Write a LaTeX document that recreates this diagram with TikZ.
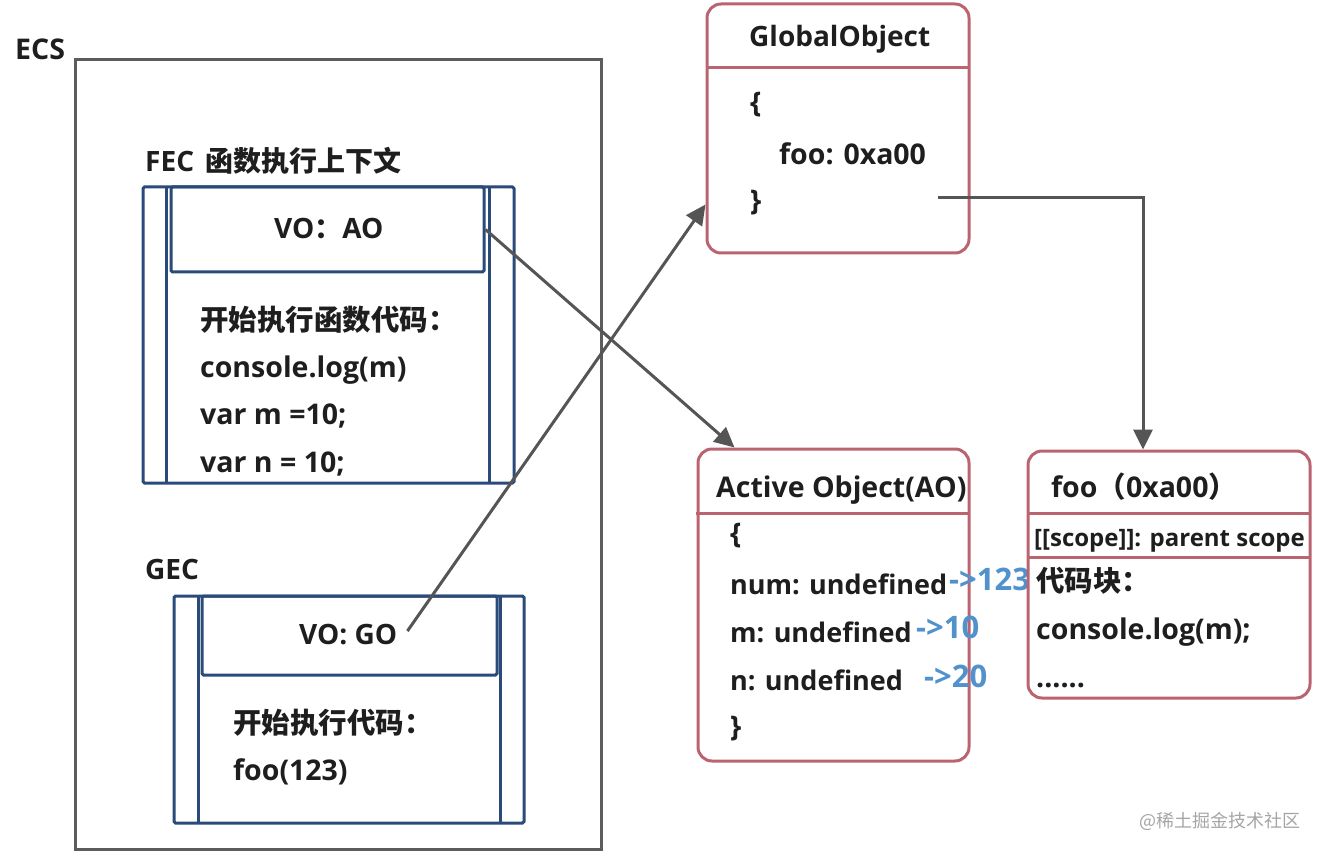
\documentclass[tikz,border=0pt]{standalone}
\usepackage{fontspec}
\setmainfont{Open Sans}
\newfontfamily\cjk{Noto Sans CJK SC}
\usetikzlibrary{arrows.meta}

\definecolor{ecsgray}{RGB}{92,92,92}
\definecolor{ctxblue}{RGB}{42,74,122}
\definecolor{objred}{RGB}{186,100,112}
\definecolor{arrowgray}{RGB}{85,85,85}
\definecolor{valblue}{RGB}{82,146,204}
\definecolor{textdark}{RGB}{30,30,30}
\definecolor{markgray}{RGB}{165,165,165}

\begin{document}
\begin{tikzpicture}[x=1pt, y=-1pt,
    ecsbox/.style={draw=ecsgray, line width=3pt, inner sep=0pt},
    ctxbox/.style={draw=ctxblue, line width=3pt, rounded corners=1.5pt, inner sep=0pt},
    objbox/.style={draw=objred, line width=3pt, rounded corners=14pt, inner sep=0pt},
    txt/.style={font=\bfseries\fontsize{28.5}{30}\selectfont, text=textdark, inner sep=0pt, anchor=base west},
    bigtxt/.style={txt, font=\bfseries\fontsize{28}{30}\selectfont},
    fieldtxt/.style={txt, font=\bfseries\fontsize{27}{30}\selectfont},
    smalltxt/.style={txt, font=\bfseries\fontsize{24}{26}\selectfont},
    valtxt/.style={txt, font=\bfseries\fontsize{31}{32}\selectfont, text=valblue},
    link/.style={draw=arrowgray, line width=3pt, -{Triangle[length=20pt,width=19pt]}}]
    \useasboundingbox (0,0) rectangle (1323,853);

    % execution context stack
    \node (ecs) [ecsbox, minimum width=526pt, minimum height=789pt] at (338,454.5) {};
    \node (ecslabel) [txt] at (15,60) {ECS};

    % function execution context
    \node (feclabel) [bigtxt] at (145,172) {FEC\hspace{0.4em}{\cjk 函数执行上下文}};
    \node (fec) [ctxbox, minimum width=371pt, minimum height=296pt] at (328.5,335) {};
    \draw[ctxblue, line width=3pt] (166,187) -- (166,483);
    \draw[ctxblue, line width=3pt] (489,187) -- (489,483);
    \node (fechead) [ctxbox, minimum width=313pt, minimum height=85pt] at (327.5,229.5) {};
    \node (voao) [bigtxt] at (274,239) {VO{\cjk ：}AO};
    \node (fec1) [txt] at (200,330) {\cjk 开始执行函数代码：};
    \node (fec2) [txt] at (200,377) {console.log(m)};
    \node (fec3) [txt] at (200,424) {var m =10;};
    \node (fec4) [txt] at (200,472) {var n = 10;};

    % global execution context
    \node (geclabel) [bigtxt] at (145,579) {GEC};
    \node (gec) [ctxbox, minimum width=350pt, minimum height=227pt] at (349,709.5) {};
    \draw[ctxblue, line width=3pt] (198,596) -- (198,823);
    \draw[ctxblue, line width=3pt] (500,596) -- (500,823);
    \node (gechead) [ctxbox, minimum width=295pt, minimum height=79pt] at (349.5,635.5) {};
    \node (vogo) [bigtxt] at (299,644) {VO: GO};
    \node (gec1) [txt] at (233,733) {\cjk 开始执行代码：};
    \node (gec2) [txt] at (233,780) {foo(123)};

    % global object
    \node (go) [objbox, minimum width=262pt, minimum height=249pt] at (838,128.5) {};
    \draw[objred, line width=3pt] (707,68) -- (969,68);
    \node (gotitle) [bigtxt] at (749,47) {GlobalObject};
    \node (go1) [txt] at (750,113) {\{};
    \node (go2) [txt] at (779,165) {foo: 0xa00};
    \node (go3) [txt] at (750,211) {\}};
    \coordinate (goexit) at (938,198);

    % active object
    \node (ao) [objbox, minimum width=271pt, minimum height=312pt] at (833.5,605) {};
    \draw[objred, line width=3pt] (696,513) -- (969,513);
    \node (aotitle) [txt] at (716,497) {Active Object(AO)};
    \node (ao1) [txt] at (730,543) {\{};
    \node (ao2) [fieldtxt] at (730,594) {num: undefined};
    \node (ao3) [fieldtxt] at (730,642) {m: undefined};
    \node (ao4) [fieldtxt] at (730,690) {n: undefined};
    \node (ao5) [txt] at (730,736) {\}};
    \node (val1) [valtxt] at (949,590) {->123};
    \node (val2) [valtxt] at (916,638) {->10};
    \node (val3) [valtxt] at (924,687) {->20};

    % function object foo
    \node (foo) [objbox, minimum width=282pt, minimum height=247pt] at (1169,574.5) {};
    \draw[objred, line width=3pt] (1028,513) -- (1310,513);
    \draw[objred, line width=3pt] (1028,557) -- (1310,557);
    \node (footitle) [txt] at (1051,497) {foo{\cjk （}0xa00{\cjk ）}};
    \node (foo1) [smalltxt] at (1034,546) {[[scope]]: parent scope};
    \node (foo2) [txt] at (1036,591) {\cjk 代码块：};
    \node (foo3) [txt] at (1036,639) {console.log(m);};
    \node (foo4) [txt] at (1036,687) {......};

    % connectors
    \draw[link] (fechead.east) -- ([xshift=38pt]ao.north west);
    \draw[link] ([xshift=10pt,yshift=3pt]vogo.east) -- ([yshift=50pt]go.south west);
    \draw[link] (goexit) -| ([xshift=-26pt]foo.north);

    \node (mark) [txt, font=\cjk\fontsize{18}{20}\selectfont, text=markgray] at (1139,827) {@稀土掘金技术社区};
\end{tikzpicture}
\end{document}
